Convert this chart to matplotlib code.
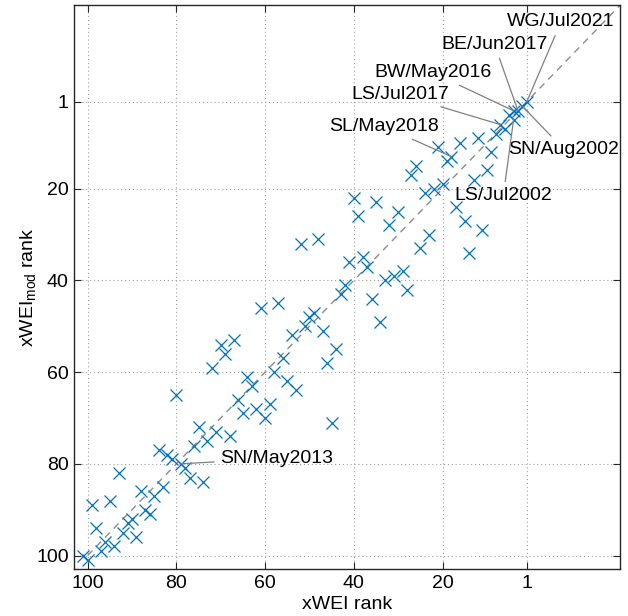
import numpy as np
import matplotlib
matplotlib.use("Agg")
import matplotlib.pyplot as plt

plt.rcParams['font.family'] = ['Liberation Sans', 'DejaVu Sans']
plt.rcParams['mathtext.fontset'] = 'custom'
plt.rcParams['mathtext.rm'] = 'Liberation Sans'

# ranks (x = xWEI rank, y = xWEI_mod rank)
xwei_rank = [1, 2, 3, 4, 4, 5, 7, 6, 8, 9, 10, 12, 13, 16, 17, 18, 19, 21, 20, 22,
             24, 26, 27, 30, 35, 40, 39, 32, 23, 25, 15, 11, 14,
             48, 52, 41, 38, 37, 33, 31, 29, 28, 36, 34, 42, 43, 49, 50, 51, 47, 44,
             46, 45, 53,
             61, 57, 72, 70, 69, 67, 80, 64, 63, 66, 65, 62, 60, 59, 58, 56, 55, 54,
             75, 71, 68, 73, 76, 84, 82, 81, 79, 78, 77, 74, 93, 88, 83, 85, 87, 86,
             95, 99, 90, 91, 92, 89, 98, 96, 97, 94, 101, 100]
xweimod_rank = [1, 2, 3, 3, 5, 4, 6, 7, 8, 12, 16, 9, 18, 10, 24, 13, 14, 11, 19, 20,
                21, 15, 17, 25, 23, 22, 26, 28, 30, 33, 27, 29, 34,
                31, 32, 36, 35, 37, 40, 39, 38, 42, 44, 49, 41, 43, 47, 48, 50, 51, 55,
                58, 71, 64,
                46, 45, 59, 54, 56, 53, 65, 61, 63, 66, 69, 68, 70, 67, 60, 57, 62, 52,
                72, 73, 74, 75, 76, 77, 78, 79, 80, 81, 83, 84, 82, 86, 85, 87, 90, 91,
                88, 89, 92, 93, 95, 96, 94, 97, 99, 98, 100, 101]

# labelled events: name, point (x, y), text position (x, y)
labels = ["WG/Jul2021", "BE/Jun2017", "BW/May2016", "LS/Jul2017",
          "SL/May2018", "SN/Aug2002", "LS/Jul2002", "SN/May2013"]
label_pts = [(1, 1), (3, 3), (4, 3), (7, 6), (18, 13), (2, 2), (4, 5), (79, 80)]
label_txt = [(-6.7, -16.4), (8.3, -11.5), (22.2, -5.3), (29.5, -0.5),
             (33.1, 6.5), (-7.3, 11.4), (6.3, 21.5), (57.5, 78.8)]

ticks = [100, 80, 60, 40, 20, 1]
lims = (103, -20)

fig = plt.figure(figsize=(6.28, 6.16), dpi=100)
ax = fig.add_axes([0.1183, 0.0758, 0.869, 0.9156])

ax.plot([100, lims[1]], [100, lims[1]], color='#8c8c8c', lw=1.0,
        linestyle=(0, (5, 4)), zorder=2)
ax.plot(xwei_rank, xweimod_rank, 'x', color='#0072BD', ms=9, mew=0.9, zorder=3)

for name, pt, tp in zip(labels, label_pts, label_txt):
    ax.annotate(name, xy=pt, xytext=tp, fontsize=14, ha='center', va='center',
                arrowprops=dict(arrowstyle='-', color='#808080', lw=0.9,
                                shrinkA=2, shrinkB=0), zorder=4)

ax.set_xlim(lims)
ax.set_ylim(lims)
ax.set_xticks(ticks)
ax.set_yticks(ticks)
ax.grid(True, color='#a0a0a0', linestyle=(0, (1, 2.5)), lw=0.8)
ax.tick_params(direction='in', top=True, right=True, length=5, width=0.8,
               labelsize=14, pad=4, colors='#262626', labelcolor='black')
for s in ax.spines.values():
    s.set_color('#262626')
    s.set_linewidth(1.0)

ax.set_xlabel('xWEI rank', fontsize=14, labelpad=3)
ax.set_ylabel(r'xWEI$_{\rm mod}$ rank', fontsize=14, labelpad=-2)

plt.savefig('out.png', dpi=100)
